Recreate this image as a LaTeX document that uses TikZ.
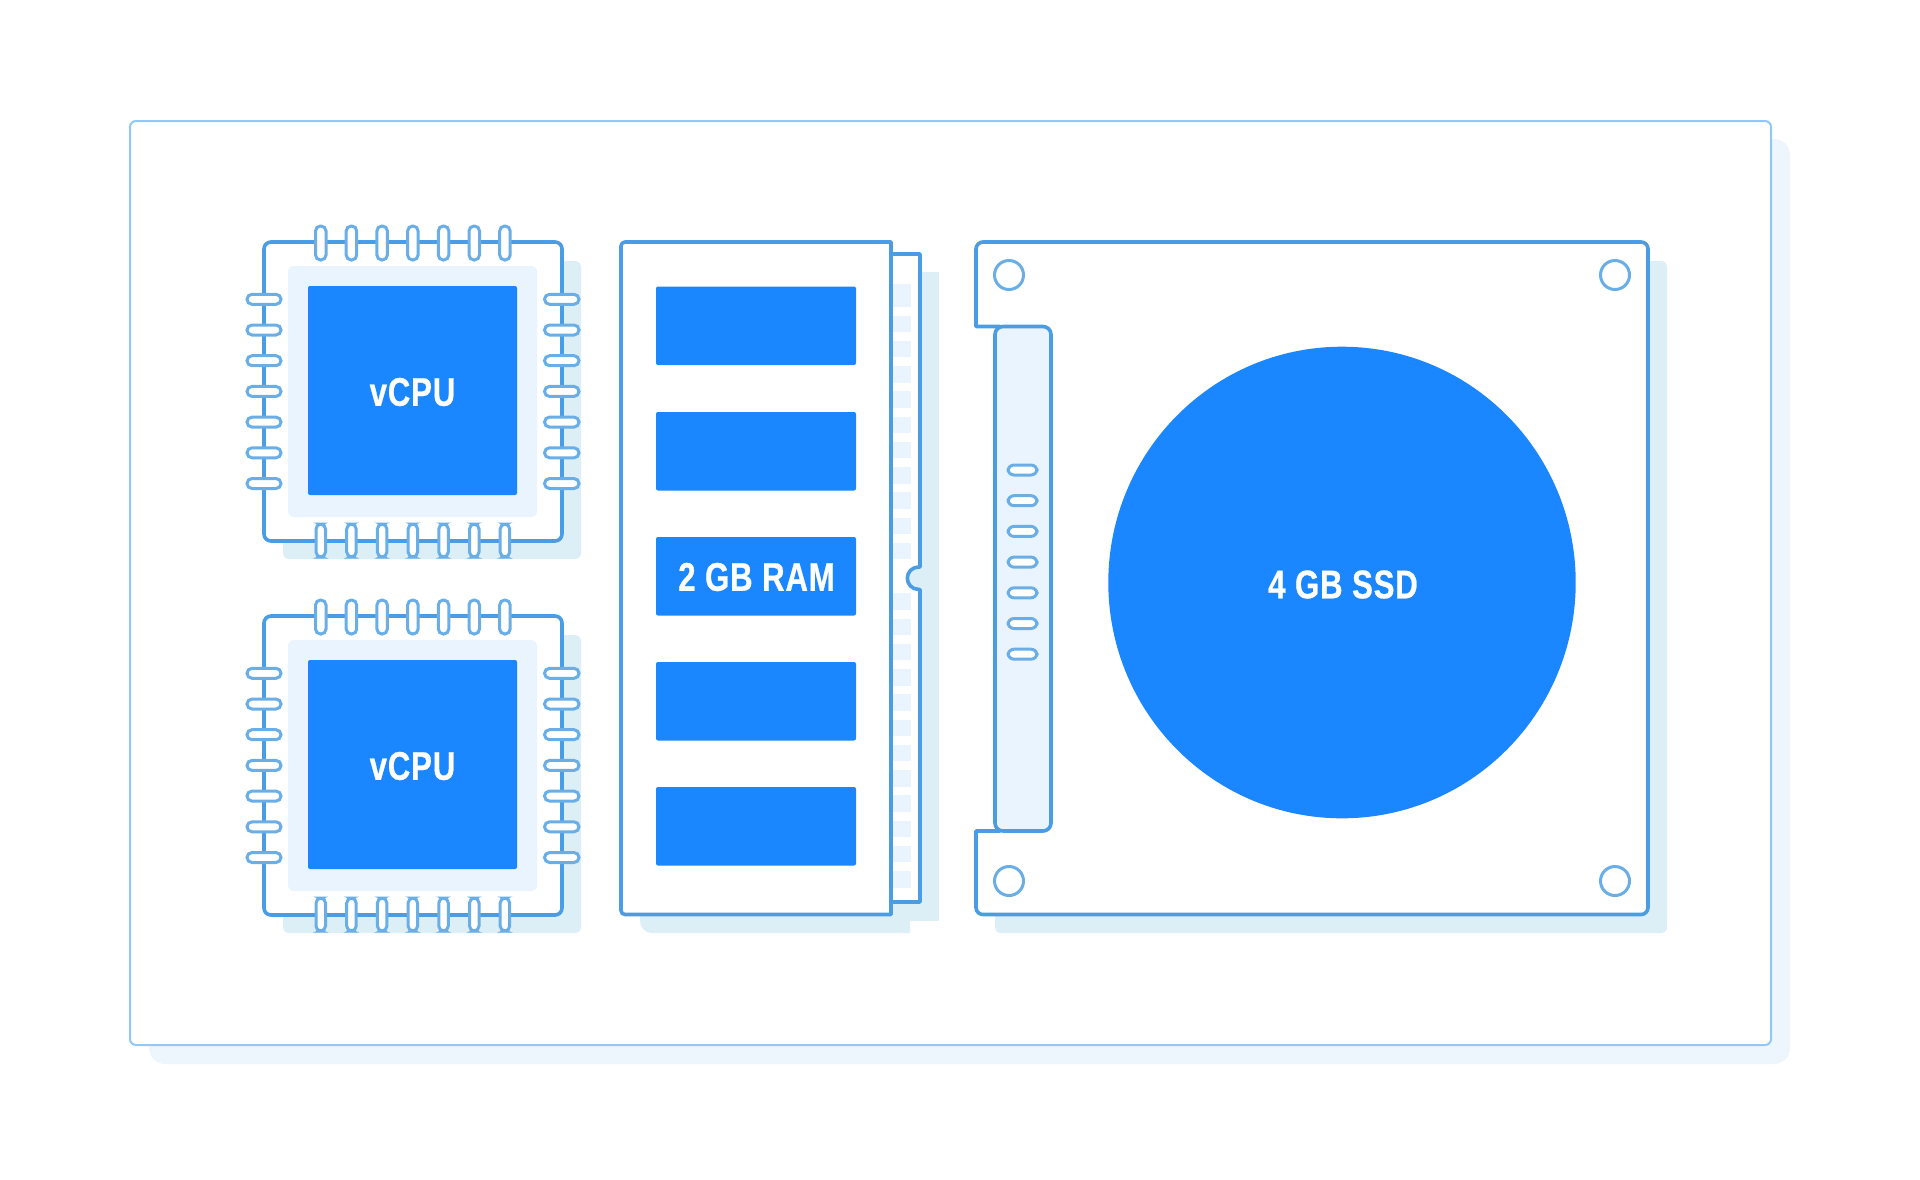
\documentclass[tikz,border=0pt]{standalone}
\usepackage{fontspec}
\setmainfont{Liberation Sans}
\newfontfamily\labelfont[FakeStretch=0.78,FakeBold=0.6,LetterSpace=2]{Liberation Sans}
\definecolor{chipblue}{HTML}{1A86FF}
\definecolor{edgeblue}{HTML}{4A9DE4}
\definecolor{pinblue}{HTML}{6AAEE8}
\definecolor{shadowblue}{HTML}{DCEFF7}
\definecolor{pale}{HTML}{E9F4FE}
\definecolor{cardline}{HTML}{90C8F8}
\definecolor{cardshadow}{HTML}{EEF6FD}
\tikzset{
  outline/.style={draw=edgeblue,line width=1.8pt,line join=round},
  pin/.style={draw=pinblue,fill=white,line width=1.5pt,rounded corners=2.5pt},
  chiptext/.style={text=white,font=\labelfont\bfseries\fontsize{20}{24}\selectfont,inner sep=0pt}
}
\begin{document}
\begin{tikzpicture}[x=0.5pt,y=-0.5pt]
  \useasboundingbox (0,0) rectangle (1920,1179);
  \fill[white] (0,0) rectangle (1920,1179);

  % card
  \fill[cardshadow,rounded corners=8pt] (149,139) rectangle (1790,1064);
  \draw[draw=cardline,fill=white,line width=1pt,rounded corners=3pt] (130,121) rectangle (1771,1045);

  % the two cpus
  \foreach \dy/\name in {0/one,374/two} {
    \begin{scope}[yshift=-\dy*0.5pt]
      \fill[shadowblue,rounded corners=3pt] (283,261) rectangle (581,559);
      \draw[outline,fill=white,rounded corners=3.5pt] (264,242) rectangle (562,541);
      \fill[pale,rounded corners=3pt] (288,266) rectangle (537,517);
      \fill[chipblue,rounded corners=1pt] (308,286) rectangle (517,495);
      \node[chiptext] (cpu \name) at (412.5,392) {vCPU};
      %pins
      \foreach \k in {0,...,6} {
        \draw[pin] (315.5+30.7*\k,226) rectangle (326+30.7*\k,260);
        \draw[pin] (316+30.7*\k,524) rectangle (325.5+30.7*\k,557);
        \draw[pin] (247,294.3+30.7*\k) rectangle (281,304.3+30.7*\k);
        \draw[pin] (544.5,294.3+30.7*\k) rectangle (579,304.3+30.7*\k);
      }
    \end{scope}
  }

  % ram
  \fill[shadowblue,rounded corners=6pt] (640,800) -- (640,933) [sharp corners] -- (910,933) -- (910,800) -- cycle;
  \fill[shadowblue] (905,272) rectangle (939,921);
  \draw[outline,fill=white] (891,254) -- (920,254) -- (920,567) -- (918.5,567)
      arc[start angle=270,end angle=90,radius=11.2] -- (920,589.4) -- (920,902) -- (891,902) -- cycle;
  \fill[pale] (893,283.5) rectangle (911,307);
  \foreach \k in {0,...,9,11,12,...,22}
    \fill[pale] (893,315.5+25.25*\k) rectangle (911,332+25.25*\k);
  \draw[outline,fill=white] (891,242) -- (625,242) to[out=180,in=90] (621,246) -- (621,910.5)
      to[out=-90,in=180] (625,914.5) -- (891,914.5) -- cycle;
  \foreach \y in {286.5,412,537,662,787}
    \fill[chipblue,rounded corners=1pt] (656,\y) rectangle (856,\y+78.5);
  \node[chiptext] (ram label) at (756.5,577) {2 GB RAM};

  % ssd
  \fill[shadowblue,rounded corners=3pt] (995,261) rectangle (1667,933);
  \draw[outline,fill=white,rounded corners=3.5pt] (1000,242) -- (1648,242) -- (1648,914.5) -- (976,914.5)
      [sharp corners] -- (976,831) -- (1000,831) -- (1000,326.5) -- (976,326.5)
      [rounded corners=3.5pt] -- (976,242) -- cycle;
  \draw[outline,fill=pale,rounded corners=4pt] (995,326.5) rectangle (1051,831);
  \foreach \k in {0,...,6}
    \draw[pin,rounded corners=3pt] (1008,465+30.7*\k) rectangle (1037,475+30.7*\k);
  \foreach \x/\y in {1009/275,1615/275,1009/881,1615/881}
    \draw[draw=pinblue,line width=1.5pt] (\x,\y) circle[radius=14.5];
  \fill[chipblue] (1342,582.5) ellipse[x radius=233.7,y radius=235.8];
  \node[chiptext] (ssd label) at (1343,584.5) {4 GB SSD};
\end{tikzpicture}
\end{document}
